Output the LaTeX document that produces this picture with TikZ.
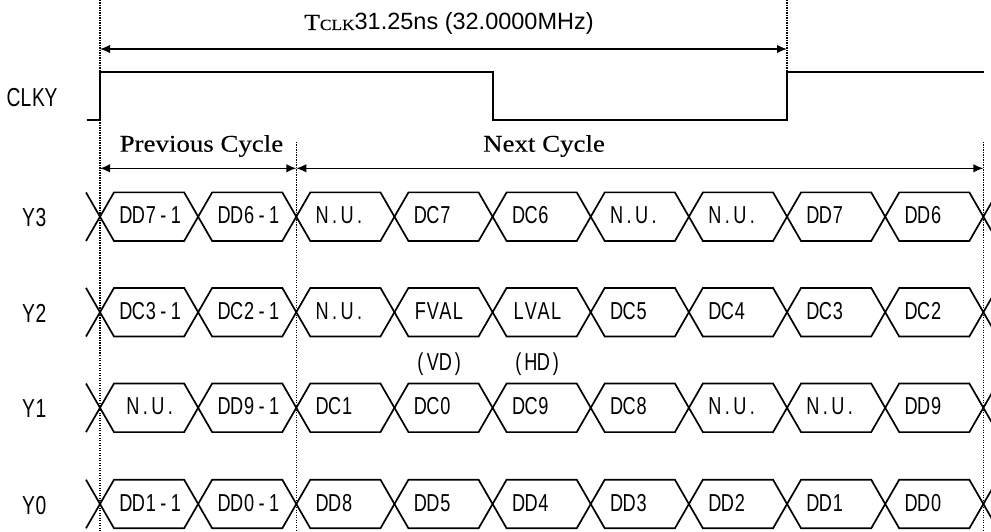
\documentclass[tikz,border=0pt]{standalone}
\usepackage{fontspec}
\setsansfont{Liberation Sans}
\setmainfont{Liberation Serif}
\newfontfamily\monof[FakeStretch=0.74]{Liberation Sans}
\newfontfamily\wideserif[FakeStretch=1.12,FakeBold=0.12]{Liberation Serif}
\usetikzlibrary{arrows.meta}
\def\monoloop#1{\ifx#1\relax\else\makebox[12.5pt][c]{#1}\expandafter\monoloop\fi}
\newcommand\mtext[1]{\edef\mtmp{#1}\expandafter\monoloop\mtmp\relax}
\newcommand\busrow[1]{%
  \foreach \i in {0,...,8}{
    \draw[sig] ({100+\i*98.15},#1) -- ({100+\i*98.15+14},{#1-24.3}) -- ({100+(\i+1)*98.15-14},{#1-24.3})
      -- ({100+(\i+1)*98.15},#1) -- ({100+(\i+1)*98.15-14},{#1+24.3}) -- ({100+\i*98.15+14},{#1+24.3}) -- cycle;
  }
  \draw[sig] (86,{#1-24.3}) -- (100,#1) -- (86,{#1+24.3});
  \draw[sig] (997.4,{#1-24.3}) -- (983.35,#1) -- (997.4,{#1+24.3});
}
\begin{document}
\begin{tikzpicture}[x=1pt,y=-1pt,
  sig/.style={line width=1.7pt, line join=miter},
  guide/.style={line width=1.2pt, dash pattern=on 1.2pt off 1.3pt},
  dim/.style={line width=1.5pt, {Latex[length=10pt,width=8.5pt]}-{Latex[length=10pt,width=8.5pt]}},
  lbl/.style={font=\monof\fontsize{24.5}{25}\selectfont, inner sep=0pt, anchor=base west},
  rowlbl/.style={font=\monof\fontsize{26}{26}\selectfont, inner sep=0pt, anchor=base west},
  ser/.style={font=\wideserif\fontsize{24}{24}\selectfont, inner sep=0pt, anchor=base west}
]
\useasboundingbox (0,0) rectangle (991,532);
% guide lines
\coordinate (g0a) at (100,0);    \coordinate (g0b) at (100,532);
\coordinate (g1a) at (787,0);    \coordinate (g1b) at (787,72);
\coordinate (g2a) at (296.3,142); \coordinate (g2b) at (296.3,532);
\coordinate (g3a) at (983.35,142); \coordinate (g3b) at (983.35,532);
\draw[guide] (g0a) -- (g0b);
\draw[guide] (g1a) -- (g1b);
\draw[guide] (g2a) -- (g2b);
\draw[guide] (g3a) -- (g3b);
% period arrow
\coordinate (t0) at (100,49); \coordinate (t1) at (787,49);
\draw[dim] (t0) -- (t1);
\node[inner sep=0pt, anchor=base west] (title) at (304,30)
  {\wideserif\fontsize{23}{23}\selectfont T{\fontsize{15.5}{15.5}\selectfont CLK}\sffamily\fontsize{23.5}{24}\selectfont 31.25ns (32.0000MHz)};
% clock
\node[rowlbl] (clky) at (7,106.7) {\mtext{CLKY}};
\draw[sig] (86.7,120) -- (100,120) -- (100,72) -- (493,72) -- (493,120) -- (787,120) -- (787,72) -- (983.5,72);
% cycle arrows
\coordinate (p0) at (100,168.3); \coordinate (p1) at (296.3,168.3); \coordinate (n1) at (983.35,168.3);
\draw[dim] (p0) -- (p1);
\draw[dim] (p1) -- (n1);
\node[ser] (prev) at (119.5,151.7) {Previous Cycle};
\node[ser] (next) at (483,151.7) {Next Cycle};
% rows
\busrow{216.7}
\busrow{312.2}
\busrow{407.8}
\busrow{504}
\node[rowlbl] (ly3) at (22,226.7) {\mtext{Y3}};
\node[rowlbl] (ly2) at (22,322.2) {\mtext{Y2}};
\node[rowlbl] (ly1) at (22,417.8) {\mtext{Y1}};
\node[rowlbl] (ly0) at (22,514) {\mtext{Y0}};
\foreach \lab [count=\i from 0] in {DD7-1,DD6-1,N.U.,DC7,DC6,N.U.,N.U.,DD7,DD6}
  \node[lbl] (y3c\i) at ({100+\i*98.15+19.5},223.8) {\mtext{\lab}};
\foreach \lab [count=\i from 0] in {DC3-1,DC2-1,N.U.,FVAL,LVAL,DC5,DC4,DC3,DC2}
  \node[lbl] (y2c\i) at ({100+\i*98.15+19.5},319.2) {\mtext{\lab}};
\node[lbl] (y1c0) at (126.5,414.8) {\mtext{N.U.}};
\foreach \lab [count=\i from 1] in {DD9-1,DC1,DC0,DC9,DC8,N.U.,N.U.,DD9}
  \node[lbl] (y1c\i) at ({100+\i*98.15+19.5},414.8) {\mtext{\lab}};
\foreach \lab [count=\i from 0] in {DD1-1,DD0-1,DD8,DD5,DD4,DD3,DD2,DD1,DD0}
  \node[lbl] (y0c\i) at ({100+\i*98.15+19.5},511) {\mtext{\lab}};
\node[lbl] (vd) at (414,370.5) {\mtext{(VD)}};
\node[lbl] (hd) at (512,370.5) {\mtext{(HD)}};
\end{tikzpicture}
\end{document}
